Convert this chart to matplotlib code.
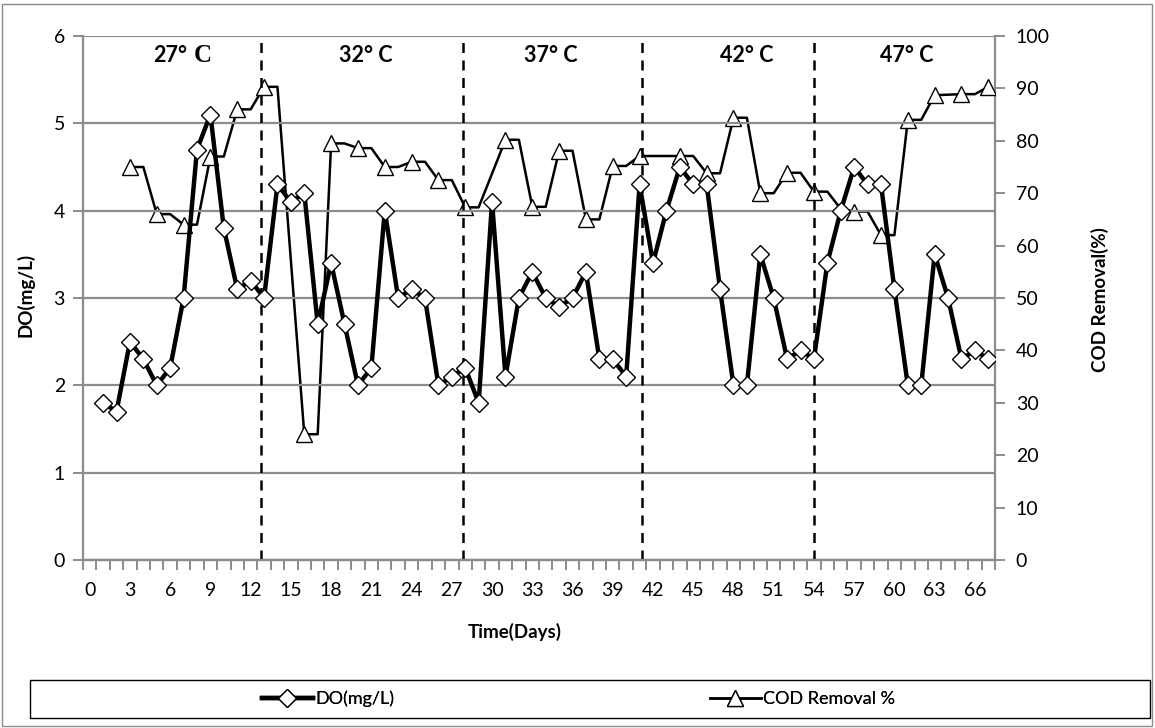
import matplotlib
matplotlib.use("Agg")
import matplotlib.pyplot as plt
from matplotlib.patches import Rectangle
from matplotlib.ticker import FixedLocator

plt.rcParams['font.family'] = ['Lato', 'DejaVu Sans']

# ---- data ----
days = list(range(1, 68))
do_values = [1.8, 1.7, 2.5, 2.3, 2.0, 2.2, 3.0, 4.7, 5.1, 3.8,
             3.1, 3.2, 3.0, 4.3, 4.1, 4.2, 2.7, 3.4, 2.7, 2.0,
             2.2, 4.0, 3.0, 3.1, 3.0, 2.0, 2.1, 2.2, 1.8, 4.1,
             2.1, 3.0, 3.3, 3.0, 2.9, 3.0, 3.3, 2.3, 2.3, 2.1,
             4.3, 3.4, 4.0, 4.5, 4.3, 4.3, 3.1, 2.0, 2.0, 3.5,
             3.0, 2.3, 2.4, 2.3, 3.4, 4.0, 4.5, 4.3, 4.3, 3.1,
             2.0, 2.0, 3.5, 3.0, 2.3, 2.4, 2.3]

cod_days = [3, 4, 5, 6, 7, 8, 9, 10, 11, 12, 13, 14,
            16, 17, 18, 19, 20, 21, 22, 23, 24, 25, 26, 27, 28, 29,
            31, 32, 33, 34, 35, 36, 37, 38, 39, 40, 41, 42, 43, 44, 45,
            46, 47, 48, 49, 50, 51, 52, 53, 54, 55, 56, 57, 58, 59, 60,
            61, 62, 63, 64, 65, 66, 67]
cod_values = [75, 75, 66, 66, 64, 64, 77, 77, 86, 86, 90.3, 90.3,
              24, 24, 79.5, 79.5, 78.6, 78.6, 75, 75, 76, 76, 72.5, 72.5, 67.3, 67.3,
              80.2, 80.2, 67.4, 67.4, 78.1, 78.1, 65, 65, 75.2, 75.2, 77.1, 77.1, 77.1, 77.1, 77.1,
              73.8, 73.8, 84.4, 84.4, 70, 70, 73.9, 73.9, 70.3, 70.3, 67, 66.5, 66.5, 62, 62,
              84, 84, 88.7, 88.8, 88.9, 88.9, 90.3]
cod_marker_days = [3, 5, 7, 9, 11, 13, 16, 18, 20, 22, 24, 26, 28,
                   31, 33, 35, 37, 39, 41, 44, 46, 48, 50, 52, 54,
                   57, 59, 61, 63, 65, 67]

period_bounds = [12.8, 27.8, 41.2, 54.0]
period_labels = ["32° C", "37° C", "42° C", "47° C"]
period_label_x = [20.6, 34.4, 49.0, 60.9]

x_ticks = list(range(0, 67, 3))
do_ticks = [0, 1, 2, 3, 4, 5, 6]
cod_ticks = list(range(0, 101, 10))

# ---- figure ----
W, H = 1155, 728
fig = plt.figure(figsize=(W / 100, H / 100), dpi=100)
L, R, T, B = 83, 995, 36, 560
ax = fig.add_axes([L / W, 1 - B / H, (R - L) / W, (B - T) / H])
ax2 = ax.twinx()

grey = '#8c8c8c'
ax.set_xlim(-0.5, 67.5)
ax.set_ylim(0, 6)
ax2.set_ylim(0, 100)

ax.set_yticks(do_ticks)
ax.yaxis.grid(True, color=grey, linewidth=1.6)
ax.set_axisbelow(True)
ax.set_xticks(x_ticks)
ax.xaxis.set_minor_locator(FixedLocator([i - 0.5 for i in range(0, 69)]))
ax.tick_params(axis='x', which='major', length=0, pad=16, labelsize=14)
ax.tick_params(axis='x', which='minor', length=7, color=grey, width=1.4, direction='out')
ax.tick_params(axis='y', length=7, color=grey, width=1.4, labelsize=14, pad=6)
ax2.set_yticks(cod_ticks)
ax2.tick_params(axis='y', length=7, color=grey, width=1.4, labelsize=14, pad=8)

for a in (ax, ax2):
    for s in a.spines.values():
        s.set_visible(False)
    a.spines['left'].set_visible(True)
    a.spines['bottom'].set_visible(True)
    a.spines['left'].set_color(grey)
    a.spines['bottom'].set_color(grey)
    a.spines['left'].set_linewidth(1.6)
    a.spines['bottom'].set_linewidth(1.6)
ax2.spines['left'].set_visible(False)
ax2.spines['right'].set_visible(True)
ax2.spines['right'].set_color(grey)
ax2.spines['right'].set_linewidth(1.6)

# vertical dashed period separators
for xb in period_bounds:
    ax.axvline(xb, color='black', linestyle=(0, (4, 3)), linewidth=1.8, zorder=2)

# series
cod_line, = ax2.plot(cod_days, cod_values, color='black', linewidth=1.8, zorder=3,
                     marker='^', markersize=12, markerfacecolor='white',
                     markeredgecolor='black', markeredgewidth=1.0,
                     markevery=[cod_days.index(d) for d in cod_marker_days],
                     label='COD Removal %')
do_line, = ax.plot(days, do_values, color='black', linewidth=3.2, zorder=4,
                   marker='D', markersize=9, markerfacecolor='white',
                   markeredgecolor='black', markeredgewidth=1.0, label='DO(mg/L)')
ax.set_zorder(ax2.get_zorder() + 1)
ax.patch.set_visible(False)

# temperature labels
ax.text(7.3, 5.78, "27°", ha='right', va='center', fontsize=15.5, fontweight='bold')
ax.text(7.75, 5.78, "C", ha='left', va='center', fontsize=18, fontweight='bold',
        family=['Liberation Serif', 'DejaVu Serif'])
for xl, lab in zip(period_label_x, period_labels):
    ax.text(xl, 5.78, lab, ha='center', va='center', fontsize=15.5, fontweight='bold')

# axis labels
fig.text(515 / W, 1 - 632 / H, "Time(Days)", ha='center', va='center', fontsize=13.5, fontweight='bold')
fig.text(25 / W, 1 - 295 / H, "DO(mg/L)", ha='center', va='center', fontsize=13.5,
         fontweight='bold', rotation=90)
fig.text(1100 / W, 1 - 300 / H, "COD Removal(%)", ha='center', va='center', fontsize=13.5,
         fontweight='bold', rotation=90)

# legend (two entries, each anchored at its reference position)
leg_y = 1 - 699 / H
for handle, x0 in ((do_line, 262), (cod_line, 710)):
    lg = fig.legend(handles=[handle], loc='center left', bbox_to_anchor=(x0 / W, leg_y),
                    frameon=False, fontsize=13, handlelength=2.8, handletextpad=0.15,
                    borderpad=0, borderaxespad=0)
    fig.add_artist(lg)
fig.add_artist(Rectangle((30 / W, 1 - 718 / H), 1120 / W, 38 / H, transform=fig.transFigure,
                         fill=False, edgecolor='black', linewidth=1.0))
# outer chart border
fig.add_artist(Rectangle((2 / W, 2 / H), 1150 / W, 722 / H, transform=fig.transFigure,
                         fill=False, edgecolor=grey, linewidth=1.0))

fig.savefig("out.png", dpi=100)
